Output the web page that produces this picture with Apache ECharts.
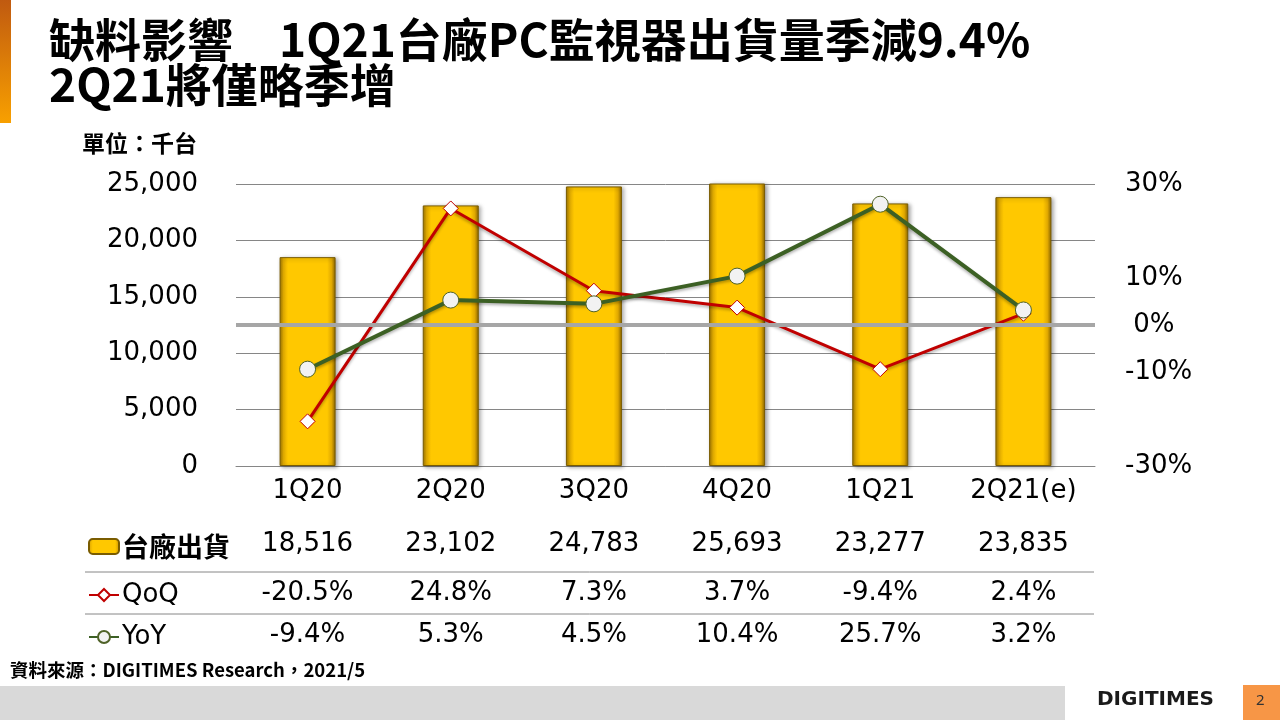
<!DOCTYPE html>
<html>
<head>
<meta charset="utf-8">
<script src="https://cdn.jsdelivr.net/npm/echarts@6/dist/echarts.min.js"></script>
<style>
  html, body { margin: 0; padding: 0; background: #fff; }
  #main { width: 1280px; height: 720px; }
</style>
</head>
<body>
<div id="main"></div>
<script>
// chart data
const categories = ['1Q20', '2Q20', '3Q20', '4Q20', '1Q21', '2Q21(e)'];
const shipments = [18516, 23102, 24783, 25693, 23277, 23835];
const qoq = [-20.5, 24.8, 7.3, 3.7, -9.4, 2.4];
const yoy = [-9.4, 5.3, 4.5, 10.4, 25.7, 3.2];
const leftTicks = [0, 5000, 10000, 15000, 20000, 25000];
const rightTickLabels = [-30, -10, 0, 10, 30];

const FONT = '"DejaVu Sans", "Noto Sans CJK TC", sans-serif';
const CJK = '"Noto Sans CJK TC", "Noto Sans", sans-serif';

const fmtNum = v => v.toLocaleString('en-US');
const fmtPct = v => v.toFixed(1) + '%';

const chart = echarts.init(document.getElementById('main'));

const barColor = new echarts.graphic.LinearGradient(0, 0, 1, 0, [
  { offset: 0, color: '#9c7400' },
  { offset: 0.07, color: '#e8b000' },
  { offset: 0.15, color: '#ffc800' },
  { offset: 0.85, color: '#ffc800' },
  { offset: 0.93, color: '#e0a800' },
  { offset: 1, color: '#8a6600' }
]);

function tableAxis(labels, offset) {
  return {
    type: 'category',
    gridIndex: 0,
    position: 'bottom',
    offset: offset,
    data: labels,
    axisLine: { show: false },
    axisTick: { show: false },
    axisLabel: { fontSize: 26, color: '#000', fontFamily: FONT, margin: 12 }
  };
}

function rowLegend(name, top, bold) {
  return {
    data: [name],
    left: 83,
    top: top,
    itemWidth: 30,
    itemHeight: 15,
    itemGap: 4,
    selectedMode: false,
    textStyle: {
      fontSize: bold ? 27 : 26,
      color: '#000',
      fontFamily: bold ? CJK : FONT,
      fontWeight: bold ? 'bold' : 'normal',
      padding: [0, 0, 0, -2]
    }
  };
}

const option = {
  animation: false,
  backgroundColor: '#fff',
  title: {
    text: '缺料影響　1Q21台廠PC監視器出貨量季減9.4%\n2Q21將僅略季增',
    left: 44,
    top: 12,
    textStyle: { fontSize: 46, fontWeight: 'bold', color: '#000', fontFamily: CJK, lineHeight: 45 }
  },
  legend: [
    rowLegend('台廠出貨', 528, true),
    rowLegend('QoQ', 577, false),
    rowLegend('YoY', 619, false)
  ],
  grid: { left: 236, right: 185, top: 184, bottom: 254 },
  xAxis: [
    {
      type: 'category',
      data: categories,
      axisLine: { lineStyle: { color: '#868686', width: 1 } },
      axisTick: { show: false },
      axisLabel: { fontSize: 26, color: '#000', fontFamily: FONT, margin: 12 }
    },
    tableAxis(shipments.map(fmtNum), 53),
    tableAxis(qoq.map(fmtPct), 102),
    tableAxis(yoy.map(fmtPct), 144)
  ],
  yAxis: [
    {
      type: 'value',
      min: leftTicks[0],
      max: leftTicks[leftTicks.length - 1],
      interval: leftTicks[1] - leftTicks[0],
      axisLine: { show: false },
      axisTick: { show: false },
      splitLine: { lineStyle: { color: '#868686', width: 1 } },
      axisLabel: { fontSize: 26, color: '#000', fontFamily: FONT, margin: 38, formatter: v => fmtNum(v) }
    },
    {
      type: 'value',
      min: -30,
      max: 30,
      interval: 10,
      position: 'right',
      axisLine: { show: false },
      axisTick: { show: false },
      splitLine: { show: false },
      axisLabel: {
        fontSize: 26, color: '#000', fontFamily: FONT, margin: 30,
        formatter: v => rightTickLabels.includes(v) ? (v === 0 ? ' 0%' : v + '%') : ''
      }
    }
  ],
  series: [
    {
      name: '台廠出貨',
      type: 'bar',
      data: shipments,
      barWidth: 56,
      z: 2,
      itemStyle: {
        color: barColor,
        borderColor: '#7a5c00',
        borderWidth: 1,
        shadowColor: 'rgba(0,0,0,0.35)',
        shadowBlur: 4,
        shadowOffsetX: 2,
        shadowOffsetY: 1
      }
    },
    {
      name: 'zero',
      type: 'line',
      yAxisIndex: 1,
      data: [],
      z: 3,
      silent: true,
      markLine: {
        silent: true,
        symbol: 'none',
        label: { show: false },
        lineStyle: { color: '#a6a6a6', width: 4, type: 'solid' },
        data: [{ yAxis: 0 }]
      }
    },
    {
      name: 'QoQ',
      type: 'line',
      yAxisIndex: 1,
      data: qoq,
      z: 4,
      symbol: 'diamond',
      symbolSize: 15,
      lineStyle: { color: '#c00000', width: 3, shadowColor: 'rgba(0,0,0,0.3)', shadowBlur: 3, shadowOffsetY: 2 },
      itemStyle: { color: '#ffffff', borderColor: '#c00000', borderWidth: 1 }
    },
    {
      name: 'YoY',
      type: 'line',
      yAxisIndex: 1,
      data: yoy,
      z: 5,
      symbol: 'circle',
      symbolSize: 16,
      lineStyle: { color: '#3c6024', width: 4, shadowColor: 'rgba(0,0,0,0.3)', shadowBlur: 3, shadowOffsetY: 2 },
      itemStyle: { color: '#f2f2f2', borderColor: '#4f6228', borderWidth: 1 }
    }
  ],
  graphic: [
    {
      type: 'rect',
      shape: { x: 0, y: 0, width: 11, height: 123 },
      style: {
        fill: new echarts.graphic.LinearGradient(0, 0, 0, 1, [
          { offset: 0, color: '#c05a10' },
          { offset: 1, color: '#f8a000' }
        ])
      }
    },
    {
      type: 'text',
      left: 82,
      top: 132,
      style: { text: '單位：千台', fontSize: 23, fontWeight: 'bold', fill: '#000', fontFamily: CJK }
    },
    {
      type: 'line',
      shape: { x1: 85, y1: 572, x2: 1094, y2: 572 },
      style: { stroke: '#868686', lineWidth: 1 }
    },
    {
      type: 'line',
      shape: { x1: 85, y1: 614, x2: 1094, y2: 614 },
      style: { stroke: '#868686', lineWidth: 1 }
    },
    {
      type: 'text',
      left: 10,
      top: 661,
      style: { text: '資料來源：DIGITIMES Research，2021/5', fontSize: 18.5, fontWeight: 'bold', fill: '#000', fontFamily: '"Noto Sans CJK TC", sans-serif' }
    },
    {
      type: 'rect',
      shape: { x: 0, y: 686, width: 1065, height: 34 },
      style: { fill: '#d9d9d9' }
    },
    {
      type: 'text',
      left: 1097,
      top: 690,
      style: { text: 'DIGITIMES', fontSize: 20, fontWeight: 'bold', fill: '#1a1a1a', fontFamily: '"DejaVu Sans", sans-serif' }
    },
    {
      type: 'rect',
      shape: { x: 1243, y: 685, width: 37, height: 35 },
      style: { fill: '#f79646' }
    },
    {
      type: 'text',
      left: 1256,
      top: 693,
      style: { text: '2', fontSize: 15, fill: '#333', fontFamily: '"Noto Sans", sans-serif' }
    }
  ]
};

chart.setOption(option);
</script>
</body>
</html>
